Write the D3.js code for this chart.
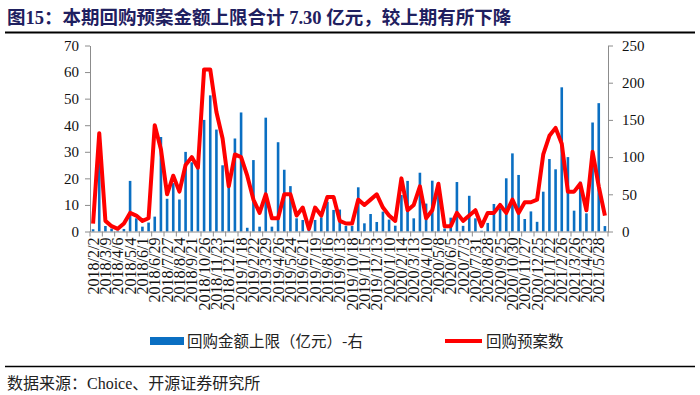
<!DOCTYPE html>
<html>
<head>
<meta charset="utf-8">
<script src="https://cdn.jsdelivr.net/npm/d3@7"></script>
<style>
  body { margin: 0; background: #fff; }
  svg { display: block; }
</style>
</head>
<body>
<div id="chart"></div>
<script>
// biweekly periods
var dates = [
  "2018/2/2","2018/2/16","2018/3/9","2018/3/23","2018/4/6","2018/4/20","2018/5/4","2018/5/18",
  "2018/6/1","2018/6/15","2018/6/29","2018/7/13","2018/7/27","2018/8/10","2018/8/24","2018/9/7",
  "2018/9/21","2018/10/12","2018/10/26","2018/11/9","2018/11/23","2018/12/7","2018/12/21","2019/1/4",
  "2019/1/18","2019/2/1","2019/2/22","2019/3/8","2019/3/29","2019/4/12","2019/4/26","2019/5/10",
  "2019/5/24","2019/6/6","2019/6/21","2019/7/5","2019/7/19","2019/8/2","2019/8/16","2019/8/30",
  "2019/9/13","2019/9/27","2019/10/18","2019/11/1","2019/11/15","2019/11/29","2019/12/13","2019/12/27",
  "2020/1/10","2020/1/23","2020/2/14","2020/2/28","2020/3/13","2020/3/27","2020/4/10","2020/4/24",
  "2020/5/8","2020/5/22","2020/6/5","2020/6/19","2020/7/3","2020/7/17","2020/7/31","2020/8/14",
  "2020/8/28","2020/9/11","2020/9/25","2020/10/16","2020/10/30","2020/11/13","2020/11/27","2020/12/11",
  "2020/12/25","2021/1/8","2021/1/22","2021/2/5","2021/2/26","2021/3/12","2021/3/26","2021/4/9",
  "2021/4/23","2021/5/7","2021/5/28","2021/6/11"
];

// 回购金额上限（亿元） - right axis
var amount = [
  3, 92, 7.4, 4, 1, 3.4, 68, 17.7, 6.5, 12,
  20, 127, 44, 65, 43, 107, 93, 86, 150, 183,
  137, 89, 62, 125, 160, 5, 96, 6.5, 153, 6.5,
  120, 83, 61, 17.7, 15.5, 2, 15.5, 19, 40, 29,
  29.5, 7.5, 7.5, 59.4, 11, 23.5, 12.8, 26.7, 16, 7.8,
  49, 68, 17.7, 79, 37.5, 68.3, 62.5, 4, 18.6, 66.5,
  7.6, 48, 17.7, 1, 11.5, 37, 31, 71.5, 105, 76,
  16.8, 27, 13, 53.5, 97.4, 83.6, 193.8, 100, 28, 67,
  24.4, 146.5, 172.5, 7.3
];

// 回购预案数 - left axis
var plans = [
  3, 37, 4, 2, 1, 3, 7, 6, 4, 5,
  40, 31, 14, 21, 15, 25, 28, 24, 61, 61,
  45, 35, 17, 29, 28, 21, 12, 7, 14, 5,
  5, 14, 14, 6, 9, 1, 9, 6, 13, 13,
  4, 3, 3, 12, 10, 12, 14, 9, 6, 4,
  20, 8, 10, 17, 5, 8, 18, 2, 2, 7,
  4, 6, 8, 2, 7, 7, 10, 7, 12, 7,
  11, 11, 12, 29, 36, 39, 33, 15, 15, 18,
  8, 30, 17, 6
];

var leftTicks = [0, 10, 20, 30, 40, 50, 60, 70];
var rightTicks = [0, 50, 100, 150, 200, 250];

var titleText = "图15：本期回购预案金额上限合计 7.30 亿元，较上期有所下降";
var legendBar = "回购金额上限（亿元）-右";
var legendLine = "回购预案数";
var sourceText = "数据来源：Choice、开源证券研究所";

var width = 700, height = 395;
var plotLeft = 90, plotRight = 608, plotTop = 45.5, plotBottom = 231.5;

var svg = d3.select("#chart").append("svg")
    .attr("width", width)
    .attr("height", height);

var cjk = "'Noto Sans CJK SC', 'Liberation Serif', sans-serif";
var serif = "'Liberation Serif', 'Times New Roman', serif";

// title
svg.append("text")
    .attr("x", 7).attr("y", 24)
    .attr("font-family", "'Liberation Serif', 'Noto Sans CJK SC', serif")
    .attr("font-weight", "bold")
    .attr("font-size", 18.5)
    .attr("fill", "#1f2060")
    .text(titleText);

svg.append("line")
    .attr("x1", 5).attr("x2", 695)
    .attr("y1", 32.5).attr("y2", 32.5)
    .attr("stroke", "#000").attr("stroke-width", 2);

var x = d3.scaleBand()
    .domain(dates)
    .range([plotLeft, plotRight]);

var yLeft = d3.scaleLinear().domain([0, 70]).range([plotBottom, plotTop]);
var yRight = d3.scaleLinear().domain([0, 250]).range([plotBottom, plotTop]);

// bars
var barW = 2.6;
svg.append("g").selectAll("rect")
    .data(amount)
    .enter().append("rect")
    .attr("x", function(d, i) { return x(dates[i]) + (x.bandwidth() - barW) / 2; })
    .attr("y", function(d) { return yRight(d); })
    .attr("width", barW)
    .attr("height", function(d) { return plotBottom - yRight(d); })
    .attr("fill", "#0a6fc2");

// axes
var axisColor = "#8c8c8c";

var gLeft = svg.append("g")
    .attr("transform", "translate(" + plotLeft + ",0)")
    .call(d3.axisLeft(yLeft).tickValues(leftTicks).tickSize(5).tickPadding(6).tickSizeOuter(0));

var gRight = svg.append("g")
    .attr("transform", "translate(" + plotRight + ",0)")
    .call(d3.axisRight(yRight).tickValues(rightTicks).tickSize(5).tickPadding(9).tickSizeOuter(0));

var labelDates = dates.filter(function(d, i) { return i % 2 == 0; });

var gBottom = svg.append("g")
    .attr("transform", "translate(0," + plotBottom + ")")
    .call(d3.axisBottom(x).tickValues(labelDates).tickSize(0).tickSizeOuter(0));

// category tick marks on group boundaries
var boundaries = labelDates.map(function(d) { return x(d); }).concat([plotRight]);
gBottom.selectAll(".cat-tick")
    .data(boundaries)
    .enter().append("line")
    .attr("class", "cat-tick")
    .attr("x1", function(d) { return d; })
    .attr("x2", function(d) { return d; })
    .attr("y1", 0).attr("y2", 5)
    .attr("stroke", axisColor);

[gLeft, gRight, gBottom].forEach(function(g) {
    g.selectAll("path, line").attr("stroke", axisColor);
    g.selectAll("text")
        .attr("font-family", serif)
        .attr("font-size", 15)
        .attr("fill", "#111");
});

gBottom.selectAll(".tick text")
    .attr("transform", "rotate(-90)")
    .attr("x", -6)
    .attr("y", 0)
    .attr("dy", "0.35em")
    .attr("font-size", 16)
    .style("text-anchor", "end");

// line
var line = d3.line()
    .x(function(d, i) { return x(dates[i]) + x.bandwidth() / 2; })
    .y(function(d) { return yLeft(d); });

svg.append("path")
    .datum(plans)
    .attr("d", line)
    .attr("fill", "none")
    .attr("stroke", "#ff0000")
    .attr("stroke-width", 4)
    .attr("stroke-linejoin", "round");

// legend
svg.append("rect")
    .attr("x", 150).attr("y", 337)
    .attr("width", 34).attr("height", 8)
    .attr("fill", "#0a6fc2");
svg.append("text")
    .attr("x", 187).attr("y", 347)
    .attr("font-family", cjk)
    .attr("font-size", 15.5)
    .attr("fill", "#222")
    .text(legendBar);

svg.append("line")
    .attr("x1", 445).attr("x2", 482)
    .attr("y1", 341).attr("y2", 341)
    .attr("stroke", "#ff0000").attr("stroke-width", 4);
svg.append("text")
    .attr("x", 486).attr("y", 347)
    .attr("font-family", cjk)
    .attr("font-size", 15.5)
    .attr("fill", "#222")
    .text(legendLine);

// source
svg.append("line")
    .attr("x1", 5).attr("x2", 695)
    .attr("y1", 366.5).attr("y2", 366.5)
    .attr("stroke", "#000").attr("stroke-width", 1.5);

svg.append("text")
    .attr("x", 7).attr("y", 389)
    .attr("font-family", "'Liberation Serif', 'Noto Sans CJK SC', serif")
    .attr("font-size", 16)
    .attr("fill", "#222")
    .text(sourceText);
</script>
</body>
</html>
